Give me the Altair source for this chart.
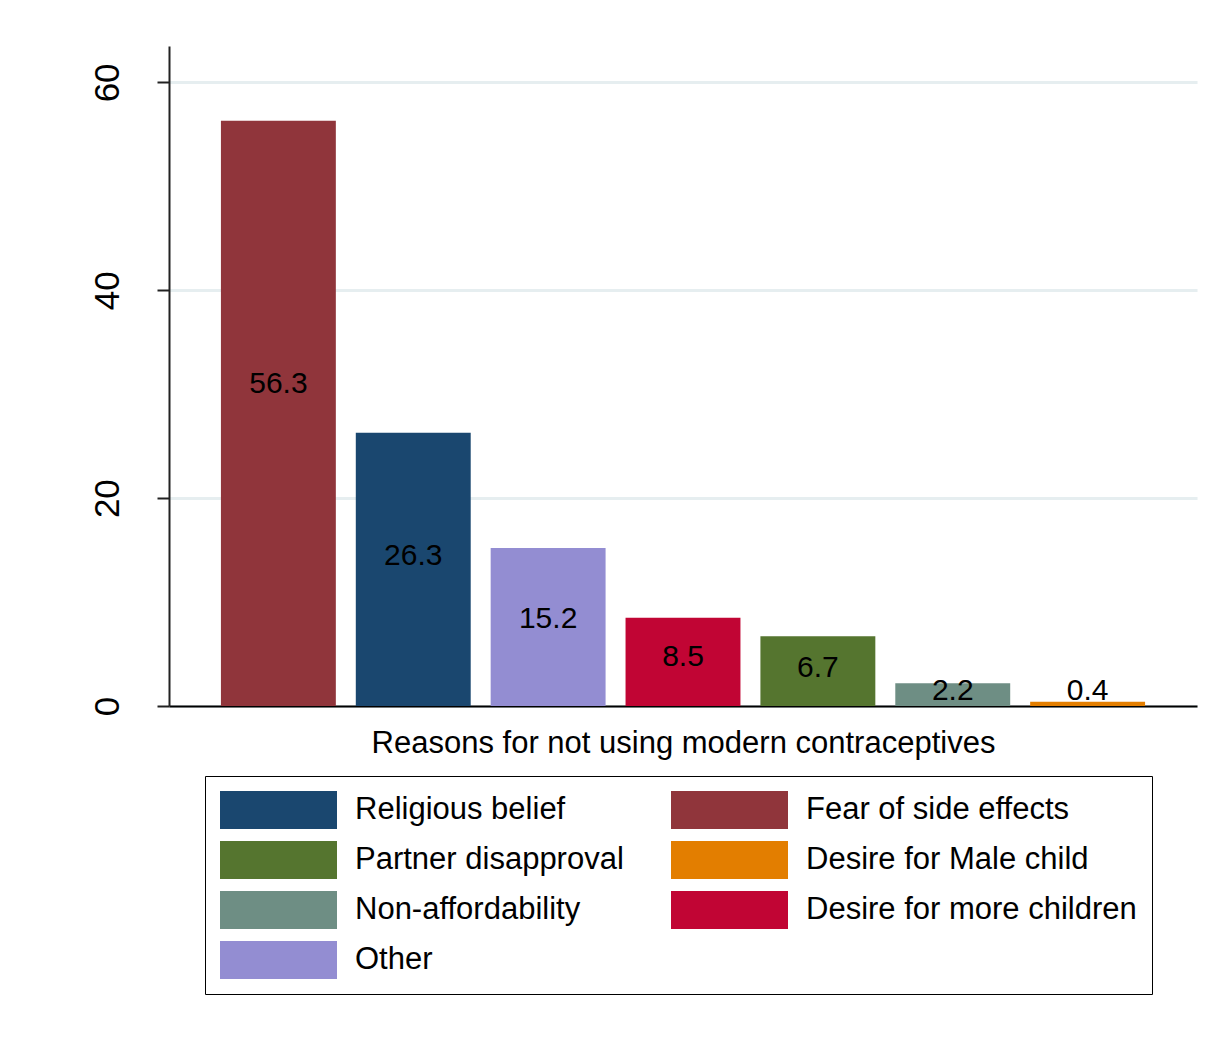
import altair as alt
import pandas as pd

# ---- data ----
reasons = ["Fear of side effects", "Religious belief", "Other", "Desire for more children",
           "Partner disapproval", "Non-affordability", "Desire for Male child"]
percent = [56.3, 26.3, 15.2, 8.5, 6.7, 2.2, 0.4]
# legend order (filled column by column, as in the reference)
legend_order = ["Religious belief", "Partner disapproval", "Non-affordability", "Other",
                "Fear of side effects", "Desire for Male child", "Desire for more children"]
legend_colors = ["#1a476f", "#55752f", "#6e8e84", "#938dd2", "#90353b", "#e37e00", "#c10534"]
y_ticks = [0, 20, 40, 60]
x_title = "Reasons for not using modern contraceptives"

df = pd.DataFrame({"reason": reasons, "value": percent})

FONT = "Liberation Sans"

x = alt.X(
    "reason:N", sort=reasons, title=x_title,
    scale=alt.Scale(paddingInner=0.148, paddingOuter=0.385),
    axis=alt.Axis(labels=False, ticks=False, domain=True, domainColor="#000000", domainWidth=2,
                  grid=False, titleFontSize=31, titleFont=FONT, titleFontWeight="normal",
                  titleColor="#000000", titleBaseline="alphabetic", titleY=46, titlePadding=0),
)

y = alt.Y(
    "value:Q", title=None,
    scale=alt.Scale(domain=[0, 63.5], nice=False, zero=True),
    axis=alt.Axis(values=y_ticks, format="d", labelAngle=270, labelAlign="center",
                  labelBaseline="alphabetic", labelPadding=39, labelFontSize=35, labelFont=FONT,
                  labelColor="#000000", tickSize=12, tickWidth=2, tickColor="#222222",
                  domainColor="#222222", domainWidth=2, grid=True, gridColor="#e6eef0", gridWidth=3),
)

color = alt.Color(
    "reason:N",
    scale=alt.Scale(domain=legend_order, range=legend_colors),
    legend=alt.Legend(title=None, orient="none", legendX=36, legendY=730, columns=2,
                      symbolType="M-1,-1H5.158V1H-1Z", symbolSize=1444,
                      symbolStrokeWidth=0, symbolOpacity=1, symbolOffset=0,
                      labelFontSize=31, labelFont=FONT, labelColor="#000000",
                      labelOffset=97, labelLimit=1000, rowPadding=12, columnPadding=47,
                      padding=15, strokeColor="#000000", fillColor="#ffffff"),
)

bars = alt.Chart(df).mark_bar().encode(x=x, y=y, color=color)

labels = alt.Chart(df).transform_calculate(
    label_y="max(datum.value * 0.55, 1.4)"
).mark_text(fontSize=30, font=FONT, color="#000000", baseline="middle", align="center").encode(
    x=alt.X("reason:N", sort=reasons),
    y=alt.Y("label_y:Q"),
    text=alt.Text("value:Q", format=".1f"),
)

chart = alt.layer(bars, labels).properties(
    width=1028, height=660,
    padding={"left": 169, "top": 46, "right": 28, "bottom": 332},
    autosize=alt.AutoSizeParams(type="none"),
    background="#ffffff",
).configure_view(stroke=None)

chart.save("out.html", embed_options={"renderer": "svg", "actions": False})
